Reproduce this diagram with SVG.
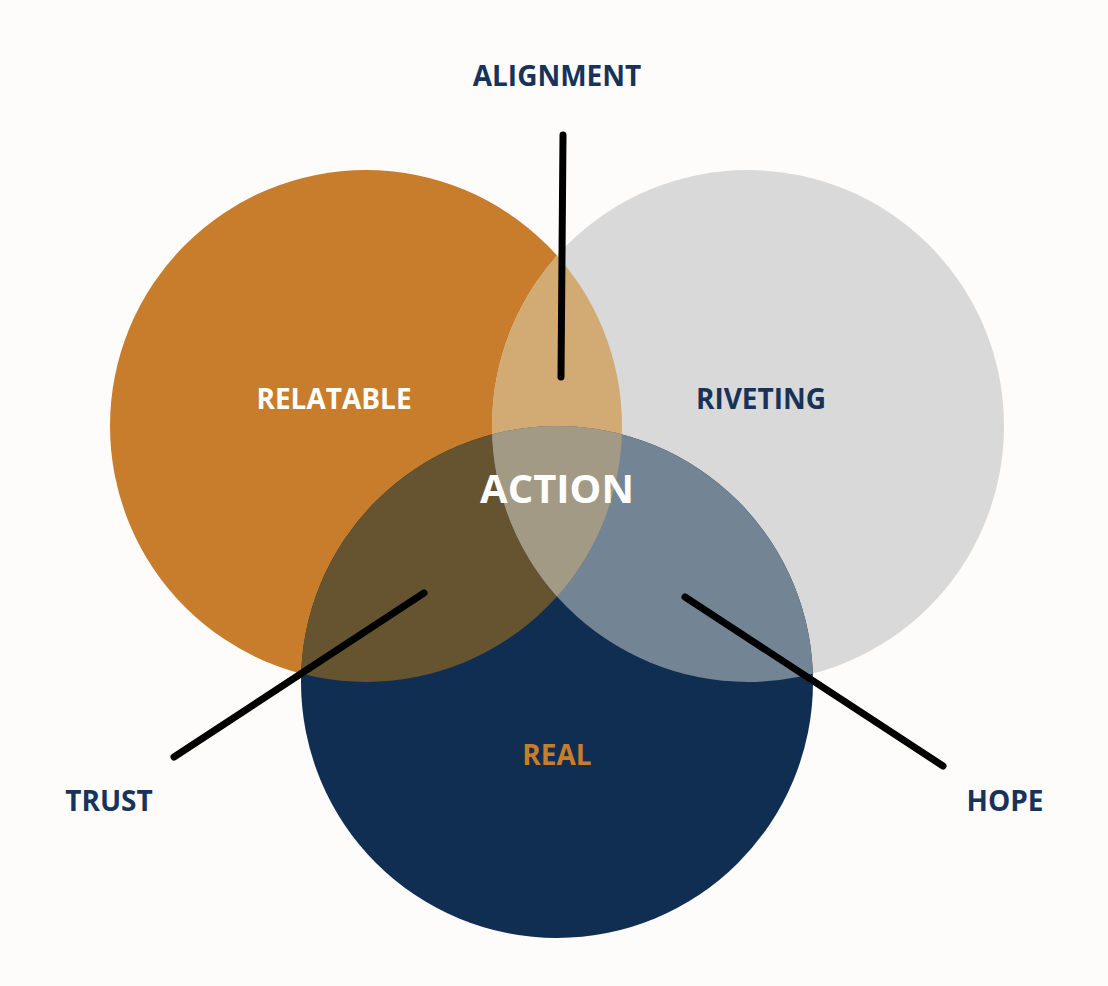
<svg xmlns="http://www.w3.org/2000/svg" width="1108" height="986" viewBox="0 0 1108 986">
<style>
text{font-family:"Open Sans","Liberation Sans",sans-serif;font-weight:700;text-anchor:middle;font-size:28px}
.dark{fill:#17335A}
.ln{stroke:#000;stroke-width:7;stroke-linecap:round;fill:none}
</style>
<defs>
<clipPath id="cO"><circle cx="366" cy="426" r="256"/></clipPath>
<clipPath id="cG"><circle cx="748" cy="426" r="256"/></clipPath>
<clipPath id="cN"><circle cx="557" cy="682" r="256"/></clipPath>
</defs>
<rect width="1108" height="986" fill="#FDFCFB"/>
<g id="relatable"><circle cx="366" cy="426" r="256" fill="#C87D2C"/><text x="334" y="409" fill="#fff">RELATABLE</text></g>
<g id="riveting"><circle cx="748" cy="426" r="256" fill="#D9D9D9"/><text x="761" y="409" class="dark">RIVETING</text></g>
<g id="real"><circle cx="557" cy="682" r="256" fill="#102E52"/><text x="557" y="765" fill="#C87D2C">REAL</text></g>
<g id="overlaps">
<circle cx="748" cy="426" r="256" fill="#D2AA74" clip-path="url(#cO)"/>
<circle cx="557" cy="682" r="256" fill="#665430" clip-path="url(#cO)"/>
<circle cx="557" cy="682" r="256" fill="#738495" clip-path="url(#cG)"/>
<g clip-path="url(#cO)"><circle cx="557" cy="682" r="256" fill="#A39A86" clip-path="url(#cG)"/></g>
</g>
<g id="action"><text x="557" y="503" fill="#fff" font-size="40" style="font-size:40px">ACTION</text></g>
<g id="connectors">
<line class="ln" x1="563" y1="135" x2="561" y2="377"/>
<line class="ln" x1="424" y1="593" x2="174" y2="757"/>
<line class="ln" x1="685" y1="597" x2="943" y2="766"/>
</g>
<g id="alignment"><text x="557" y="86" class="dark">ALIGNMENT</text></g>
<g id="trust"><text x="109" y="811" class="dark">TRUST</text></g>
<g id="hope"><text x="1005" y="811" class="dark">HOPE</text></g>
</svg>
